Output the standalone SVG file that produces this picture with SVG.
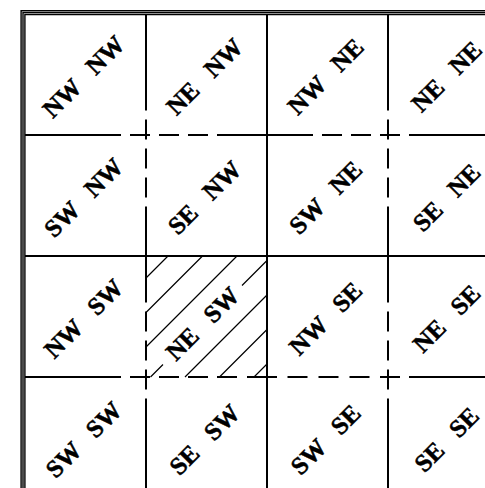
<svg xmlns="http://www.w3.org/2000/svg" width="485" height="488" viewBox="0 0 485 488">
<style>
.bd{fill:none;stroke:#000;stroke-width:1.4}
.g{fill:none;stroke:#000;stroke-width:2}
.dl{stroke-dasharray:96 9 20 9 20 9 20 9}
.h{fill:none;stroke:#000;stroke-width:1.2}
.t{font-family:"Liberation Serif",serif;font-weight:bold;font-size:25px;word-spacing:12px;fill:#000;stroke:#000;stroke-width:0.5;text-anchor:middle;dominant-baseline:central}
</style>
<rect width="485" height="488" fill="#fff"/>
<g id="border">
<path class="bd" d="M21.1,488V10.7H485"/>
<path class="bd" d="M23,488V12.6H485"/>
<path class="bd" d="M24.9,488V14.5H485"/>
</g>
<g id="connectors">
<path class="g" d="M267,15V488"/>
<path class="g" d="M25,256H485"/>
<path class="g dl" d="M146,14.5V488"/>
<path class="g dl" d="M388,14.5V488"/>
<path class="g dl" d="M25,135H485"/>
<path class="g" d="M25,377H121M130,377H150M159,377H179M188,377H208M217,377H237M247,377H277M287.5,377H307.5M318.5,377H338.5M349.5,377H369.5M380,377H400M409,377H485"/>
</g>
<g id="hatch">
<path class="h" d="M146,278L168,256M146,312.5L202.5,256M146,347L237,256M150.5,377L163,364.5M242,285.5L267,260.5M185,377L267,295M219.5,377L267,329.5M254,377L267,364"/>
</g>
<g id="n11"><text class="t" transform="translate(83.5,76.5) rotate(-45)">NW NW</text></g>
<g id="n12"><text class="t" transform="translate(204.5,76.5) rotate(-45)">NE NW</text></g>
<g id="n13"><text class="t" transform="translate(325.5,76.5) rotate(-45)">NW NE</text></g>
<g id="n14"><text class="t" transform="translate(446.5,76.5) rotate(-45)">NE NE</text></g>
<g id="n21"><text class="t" transform="translate(83.5,197.5) rotate(-45)">SW NW</text></g>
<g id="n22"><text class="t" transform="translate(204.5,197.5) rotate(-45)">SE NW</text></g>
<g id="n23"><text class="t" transform="translate(325.5,197.5) rotate(-45)">SW NE</text></g>
<g id="n24"><text class="t" transform="translate(446.5,197.5) rotate(-45)">SE NE</text></g>
<g id="n31"><text class="t" transform="translate(83.5,318.5) rotate(-45)">NW SW</text></g>
<g id="n32"><text class="t" transform="translate(202.5,323.5) rotate(-45)">NE SW</text></g>
<g id="n33"><text class="t" transform="translate(325.5,318.5) rotate(-45)">NW SE</text></g>
<g id="n34"><text class="t" transform="translate(446.5,318.5) rotate(-45)">NE SE</text></g>
<g id="n41"><text class="t" transform="translate(83.5,439.5) rotate(-45)">SW SW</text></g>
<g id="n42"><text class="t" transform="translate(204.5,439.5) rotate(-45)">SE SW</text></g>
<g id="n43"><text class="t" transform="translate(325.5,439.5) rotate(-45)">SW SE</text></g>
<g id="n44"><text class="t" transform="translate(446.5,439.5) rotate(-45)">SE SE</text></g>
</svg>
